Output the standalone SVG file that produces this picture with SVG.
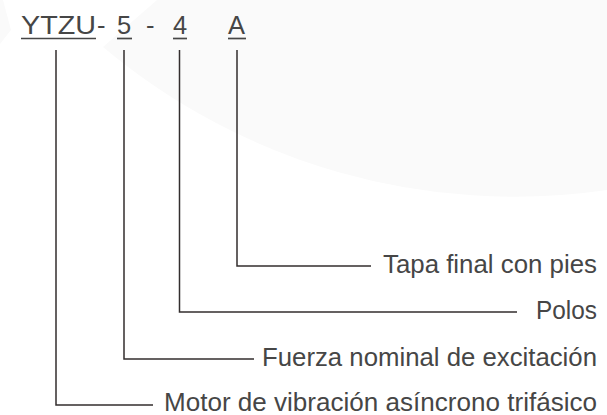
<svg xmlns="http://www.w3.org/2000/svg" width="607" height="415" viewBox="0 0 607 415">
<style>
.code{font-family:"Liberation Sans",Arial,sans-serif;font-size:25.5px;fill:#464646}
.lbl{font-family:"Liberation Sans",Arial,sans-serif;font-size:25.5px;fill:#464646}
.ul{stroke:#464646;stroke-width:1.7}
.conn{fill:none;stroke:#332e2e;stroke-width:1.5}
</style>
<rect width="607" height="415" fill="#ffffff"/>
<g id="background">
<path d="M157,0 L103,47 A640,640 0 0 0 607,190 L607,0 Z" fill="#fafafa"/>
<polygon points="0,0 3,0 11,30 0,44" fill="#fafafa"/>
</g>
<g id="code">
<text class="code" x="21" y="34" textLength="75" lengthAdjust="spacingAndGlyphs">YTZU</text>
<text class="code" x="97" y="34">-</text>
<text class="code" x="117" y="34">5</text>
<text class="code" x="146" y="34">-</text>
<text class="code" x="173" y="34">4</text>
<text class="code" x="228" y="34">A</text>
<line class="ul" x1="21" y1="38.5" x2="96" y2="38.5"/>
<line class="ul" x1="117" y1="38.5" x2="132" y2="38.5"/>
<line class="ul" x1="173" y1="38.5" x2="187" y2="38.5"/>
<line class="ul" x1="228" y1="38.5" x2="246" y2="38.5"/>
</g>
<g id="connectors">
<polyline class="conn" points="237,50 237,266 371,266"/>
<polyline class="conn" points="179.5,50 179.5,312 517,312"/>
<polyline class="conn" points="124,50 124,359 254,359"/>
<polyline class="conn" points="56,50 56,405 153,405"/>
</g>
<g id="label-a"><text class="lbl" x="383" y="273" textLength="214" lengthAdjust="spacingAndGlyphs">Tapa final con pies</text></g>
<g id="label-4"><text class="lbl" x="536" y="319" textLength="61" lengthAdjust="spacingAndGlyphs">Polos</text></g>
<g id="label-5"><text class="lbl" x="262" y="366" textLength="335" lengthAdjust="spacingAndGlyphs">Fuerza nominal de excitación</text></g>
<g id="label-ytzu"><text class="lbl" x="164" y="411" textLength="433" lengthAdjust="spacingAndGlyphs">Motor de vibración asíncrono trifásico</text></g>
</svg>
